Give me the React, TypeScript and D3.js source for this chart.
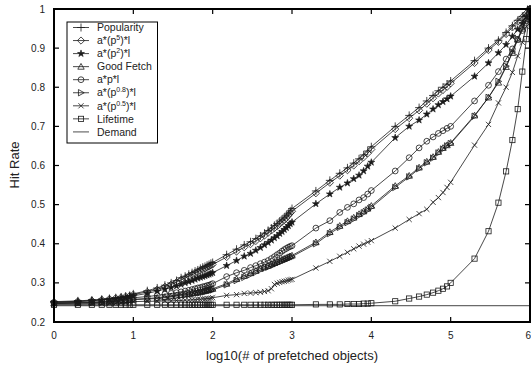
import React from 'react';
import * as d3 from 'd3';

// Number of prefetched objects at each sample
const COUNTS = [
  1, 2, 3, 4, 5, 6, 7, 8, 9,
  10, 15, 20, 25, 30, 35, 40, 45, 50, 55, 60, 65, 70, 75, 80, 85, 90, 95,
  100, 150, 200, 250, 300, 350, 400, 450, 500, 550, 600, 650, 700, 750, 800, 850, 900, 950,
  1000, 2000, 3000, 4000, 5000, 6000, 7000, 8000, 9000,
  10000, 20000, 30000, 40000, 50000, 60000, 70000, 80000, 90000,
  100000, 200000, 300000, 400000, 500000, 600000, 700000, 800000, 900000,
  1000000,
];

const POPULARITY = [
  0.252, 0.254, 0.256, 0.258, 0.260, 0.262, 0.264, 0.266, 0.268,
  0.272, 0.280, 0.287, 0.294, 0.300, 0.306, 0.313, 0.317, 0.322, 0.326, 0.330, 0.333, 0.337, 0.340, 0.342, 0.345, 0.347, 0.350,
  0.352, 0.372, 0.386, 0.397, 0.405, 0.413, 0.420, 0.427, 0.434, 0.440, 0.447, 0.452, 0.458, 0.463, 0.468, 0.473, 0.478, 0.484,
  0.490, 0.535, 0.562, 0.580, 0.594, 0.606, 0.617, 0.627, 0.637,
  0.648, 0.700, 0.728, 0.748, 0.765, 0.779, 0.791, 0.800, 0.808,
  0.816, 0.868, 0.900, 0.920, 0.940, 0.957, 0.971, 0.981, 0.990,
  1.0,
];

const P5 = [
  0.251, 0.253, 0.255, 0.257, 0.259, 0.261, 0.263, 0.265, 0.267,
  0.270, 0.277, 0.283, 0.290, 0.296, 0.302, 0.308, 0.312, 0.317, 0.321, 0.325, 0.328, 0.332, 0.335, 0.337, 0.340, 0.342, 0.345,
  0.347, 0.366, 0.380, 0.391, 0.399, 0.407, 0.414, 0.421, 0.428, 0.434, 0.440, 0.445, 0.451, 0.456, 0.461, 0.466, 0.472, 0.478,
  0.483, 0.529, 0.556, 0.574, 0.588, 0.600, 0.611, 0.621, 0.631,
  0.641, 0.693, 0.721, 0.741, 0.758, 0.772, 0.784, 0.793, 0.801,
  0.810, 0.862, 0.895, 0.916, 0.936, 0.953, 0.968, 0.979, 0.989,
  1.0,
];

const P2 = [
  0.250, 0.252, 0.254, 0.256, 0.258, 0.259, 0.261, 0.263, 0.265,
  0.267, 0.273, 0.279, 0.284, 0.288, 0.292, 0.296, 0.300, 0.303, 0.306, 0.309, 0.312, 0.314, 0.316, 0.318, 0.320, 0.322, 0.324,
  0.326, 0.344, 0.357, 0.368, 0.375, 0.383, 0.390, 0.397, 0.403, 0.409, 0.415, 0.420, 0.426, 0.431, 0.436, 0.441, 0.446, 0.451,
  0.455, 0.502, 0.527, 0.544, 0.555, 0.566, 0.575, 0.586, 0.598,
  0.608, 0.671, 0.700, 0.716, 0.731, 0.744, 0.755, 0.763, 0.770,
  0.777, 0.828, 0.862, 0.888, 0.909, 0.930, 0.948, 0.963, 0.980,
  1.0,
];

const GOOD_FETCH = [
  0.248, 0.249, 0.250, 0.251, 0.252, 0.253, 0.254, 0.255, 0.256,
  0.258, 0.260, 0.262, 0.264, 0.266, 0.268, 0.269, 0.271, 0.272, 0.274, 0.275, 0.276, 0.278, 0.279, 0.280, 0.282, 0.283, 0.284,
  0.285, 0.298, 0.310, 0.318, 0.325, 0.331, 0.337, 0.341, 0.344, 0.348, 0.351, 0.354, 0.357, 0.360, 0.362, 0.364, 0.366, 0.368,
  0.370, 0.404, 0.430, 0.446, 0.458, 0.467, 0.476, 0.483, 0.490,
  0.497, 0.548, 0.574, 0.595, 0.610, 0.622, 0.635, 0.645, 0.652,
  0.658, 0.728, 0.774, 0.812, 0.852, 0.888, 0.922, 0.950, 0.975,
  1.0,
];

const APL = [
  0.249, 0.250, 0.251, 0.252, 0.254, 0.255, 0.257, 0.258, 0.260,
  0.262, 0.265, 0.268, 0.271, 0.273, 0.275, 0.277, 0.279, 0.281, 0.283, 0.285, 0.287, 0.288, 0.290, 0.291, 0.293, 0.294, 0.296,
  0.298, 0.316, 0.326, 0.332, 0.339, 0.344, 0.349, 0.353, 0.357, 0.362, 0.367, 0.372, 0.376, 0.381, 0.385, 0.388, 0.391, 0.393,
  0.395, 0.440, 0.459, 0.480, 0.493, 0.502, 0.512, 0.518, 0.527,
  0.536, 0.586, 0.620, 0.645, 0.662, 0.673, 0.682, 0.689, 0.695,
  0.700, 0.765, 0.805, 0.840, 0.872, 0.898, 0.922, 0.945, 0.970,
  1.0,
];

const P08 = [
  0.247, 0.248, 0.249, 0.250, 0.251, 0.252, 0.253, 0.254, 0.255,
  0.257, 0.259, 0.260, 0.262, 0.264, 0.266, 0.267, 0.269, 0.270, 0.271, 0.273, 0.274, 0.275, 0.276, 0.277, 0.279, 0.280, 0.281,
  0.282, 0.295, 0.306, 0.314, 0.321, 0.327, 0.333, 0.337, 0.340, 0.344, 0.347, 0.350, 0.353, 0.356, 0.358, 0.360, 0.362, 0.365,
  0.367, 0.400, 0.426, 0.442, 0.454, 0.463, 0.472, 0.479, 0.486,
  0.493, 0.544, 0.571, 0.592, 0.607, 0.619, 0.632, 0.642, 0.650,
  0.656, 0.726, 0.774, 0.815, 0.854, 0.890, 0.923, 0.951, 0.976,
  1.0,
];

const P05 = [
  0.246, 0.246, 0.247, 0.247, 0.248, 0.248, 0.249, 0.249, 0.250,
  0.252, 0.253, 0.253, 0.254, 0.254, 0.255, 0.255, 0.256, 0.256, 0.257, 0.257, 0.258, 0.258, 0.259, 0.259, 0.260, 0.260, 0.261,
  0.262, 0.268, 0.270, 0.273, 0.274, 0.275, 0.276, 0.278, 0.280, 0.285, 0.296, 0.299, 0.301, 0.303, 0.304, 0.305, 0.307, 0.308,
  0.309, 0.338, 0.355, 0.368, 0.378, 0.387, 0.394, 0.399, 0.404,
  0.408, 0.440, 0.462, 0.477, 0.488, 0.506, 0.518, 0.531, 0.544,
  0.557, 0.652, 0.705, 0.760, 0.800, 0.838, 0.880, 0.915, 0.955,
  1.0,
];

const LIFETIME = [
  0.244, 0.244, 0.244, 0.244, 0.244, 0.244, 0.244, 0.244, 0.244,
  0.244, 0.244, 0.244, 0.244, 0.244, 0.244, 0.244, 0.244, 0.244, 0.244, 0.244, 0.244, 0.244, 0.244, 0.244, 0.244, 0.244, 0.244,
  0.244, 0.244, 0.244, 0.244, 0.244, 0.244, 0.244, 0.244, 0.244, 0.244, 0.244, 0.244, 0.244, 0.244, 0.244, 0.244, 0.244, 0.244,
  0.244, 0.245, 0.245, 0.245, 0.246, 0.246, 0.246, 0.247, 0.247,
  0.248, 0.253, 0.260, 0.265, 0.270, 0.275, 0.280, 0.285, 0.291,
  0.300, 0.362, 0.432, 0.505, 0.585, 0.665, 0.744, 0.840, 0.923,
  1.0,
];

// On-demand caching hit rate, independent of prefetching
const DEMAND_RATE = 0.242;

const X_TICKS = [0, 1, 2, 3, 4, 5, 6];
const Y_TICKS = [0.2, 0.3, 0.4, 0.5, 0.6, 0.7, 0.8, 0.9, 1];

type MarkerKind = 'plus' | 'diamond' | 'star' | 'triangle' | 'circle' | 'rtriangle' | 'cross' | 'square' | 'none';

interface Series {
  label: React.ReactNode;
  values: number[];
  marker: MarkerKind;
}

const SERIES: Series[] = [
  { label: 'Popularity', values: POPULARITY, marker: 'plus' },
  { label: <>a*(p<tspan dy={-4} fontSize={7}>5</tspan><tspan dy={4}>)*l</tspan></>, values: P5, marker: 'diamond' },
  { label: <>a*(p<tspan dy={-4} fontSize={7}>2</tspan><tspan dy={4}>)*l</tspan></>, values: P2, marker: 'star' },
  { label: 'Good Fetch', values: GOOD_FETCH, marker: 'triangle' },
  { label: 'a*p*l', values: APL, marker: 'circle' },
  { label: <>a*(p<tspan dy={-4} fontSize={7}>0.8</tspan><tspan dy={4}>)*l</tspan></>, values: P08, marker: 'rtriangle' },
  { label: <>a*(p<tspan dy={-4} fontSize={7}>0.5</tspan><tspan dy={4}>)*l</tspan></>, values: P05, marker: 'cross' },
  { label: 'Lifetime', values: LIFETIME, marker: 'square' },
];

const W = 531;
const H = 371;
const FONT = '"Liberation Sans", Arial, Helvetica, sans-serif';
const INK = '#1a1a1a';

const x = d3.scaleLinear().domain([0, 6]).range([54, 530]);
const y = d3.scaleLinear().domain([0.2, 1]).range([322, 9]);

const starPath = d3.symbol().type(d3.symbolStar).size(15)() as string;

function Marker({ kind, cx, cy }: { kind: MarkerKind; cx: number; cy: number }) {
  const r = 3.2;
  const common = { fill: 'none', stroke: INK, strokeWidth: 0.8 };
  switch (kind) {
    case 'plus':
      return <path d={`M${cx - 4},${cy}H${cx + 4}M${cx},${cy - 4}V${cy + 4}`} {...common} />;
    case 'diamond':
      return <path d={`M${cx},${cy - 3.6}L${cx + 3.6},${cy}L${cx},${cy + 3.6}L${cx - 3.6},${cy}Z`} {...common} />;
    case 'star':
      return <path d={starPath} transform={`translate(${cx},${cy})`} fill={INK} stroke={INK} strokeWidth={0.6} />;
    case 'triangle':
      return <path d={`M${cx},${cy - r}L${cx + r},${cy + r * 0.8}L${cx - r},${cy + r * 0.8}Z`} {...common} />;
    case 'circle':
      return <circle cx={cx} cy={cy} r={2.9} {...common} />;
    case 'rtriangle':
      return <path d={`M${cx + r},${cy}L${cx - r * 0.8},${cy - r}L${cx - r * 0.8},${cy + r}Z`} {...common} />;
    case 'cross':
      return <path d={`M${cx - 2.6},${cy - 2.6}L${cx + 2.6},${cy + 2.6}M${cx - 2.6},${cy + 2.6}L${cx + 2.6},${cy - 2.6}`} {...common} />;
    case 'square':
      return <rect x={cx - 2.6} y={cy - 2.6} width={5.2} height={5.2} {...common} />;
    default:
      return null;
  }
}

export default function App() {
  const xs = COUNTS.map((c) => Math.log10(c));
  const line = d3
    .line<number>()
    .x((_, i) => x(xs[i]))
    .y((v) => y(v));

  const legendX = 67;
  const legendY = 22;
  const rowH = 13.05;

  return (
    <svg
      width={W}
      height={H}
      style={{ position: 'absolute', left: 0, top: 0, background: '#fff' }}
      fontFamily={FONT}
    >
      <rect width={W} height={H} fill="#fff" />

      {/* demand baseline */}
      <line
        x1={x(0)}
        x2={x(6)}
        y1={y(DEMAND_RATE)}
        y2={y(DEMAND_RATE)}
        stroke="#6a6a6a"
        strokeWidth={1.2}
      />

      {SERIES.map((s, si) => (
        <g key={si}>
          <path d={line(s.values) || ''} fill="none" stroke={INK} strokeWidth={0.8} />
          {s.values.map((v, i) => (
            <Marker key={i} kind={s.marker} cx={x(xs[i])} cy={y(v)} />
          ))}
        </g>
      ))}

      {/* frame */}
      <rect
        x={x(0)}
        y={y(1)}
        width={x(6) - x(0)}
        height={y(0.2) - y(1)}
        fill="none"
        stroke="#000"
        strokeWidth={2}
      />

      {/* ticks on all four sides, pointing inward */}
      {X_TICKS.slice(1, -1).map((t) => (
        <g key={`xt${t}`}>
          <line x1={x(t)} x2={x(t)} y1={y(0.2)} y2={y(0.2) - 5} stroke="#000" strokeWidth={1.2} />
          <line x1={x(t)} x2={x(t)} y1={y(1)} y2={y(1) + 5} stroke="#000" strokeWidth={1.2} />
        </g>
      ))}
      {Y_TICKS.slice(1, -1).map((t) => (
        <g key={`yt${t}`}>
          <line x1={x(0)} x2={x(0) + 5} y1={y(t)} y2={y(t)} stroke="#000" strokeWidth={1.2} />
          <line x1={x(6)} x2={x(6) - 5} y1={y(t)} y2={y(t)} stroke="#000" strokeWidth={1.2} />
        </g>
      ))}

      {/* tick labels */}
      {X_TICKS.map((t, i) => (
        <text
          key={`xl${t}`}
          x={i === X_TICKS.length - 1 ? W : x(t)}
          y={339}
          textAnchor={i === X_TICKS.length - 1 ? 'end' : 'middle'}
          fontSize={10}
          fill="#222"
        >
          {t}
        </text>
      ))}
      {Y_TICKS.map((t) => (
        <text key={`yl${t}`} x={45} y={y(t) + 3.5} textAnchor="end" fontSize={10} fill="#222">
          {t === 1 ? '1' : t.toFixed(1)}
        </text>
      ))}

      {/* axis titles */}
      <text x={292} y={360} textAnchor="middle" fontSize={13} fill="#222">
        log10(# of prefetched objects)
      </text>
      <text
        transform={`translate(19,${165}) rotate(-90)`}
        textAnchor="middle"
        fontSize={13}
        fill="#222"
      >
        Hit Rate
      </text>

      {/* legend */}
      <rect
        x={legendX}
        y={legendY}
        width={90.5}
        height={121}
        fill="#fff"
        stroke="#000"
        strokeWidth={1}
      />
      {SERIES.map((s, i) => {
        const cy = legendY + 5.5 + i * rowH;
        return (
          <g key={`lg${i}`}>
            <line x1={73} x2={89} y1={cy} y2={cy} stroke={INK} strokeWidth={0.8} />
            <Marker kind={s.marker} cx={81} cy={cy} />
            <text x={97} y={cy + 3.7} fontSize={10.5} fill="#222">
              {s.label}
            </text>
          </g>
        );
      })}
      {(() => {
        const cy = legendY + 5.5 + SERIES.length * rowH;
        return (
          <g>
            <line x1={73} x2={89} y1={cy} y2={cy} stroke="#6a6a6a" strokeWidth={1.2} />
            <text x={97} y={cy + 3.7} fontSize={10.5} fill="#222">
              Demand
            </text>
          </g>
        );
      })()}
    </svg>
  );
}
